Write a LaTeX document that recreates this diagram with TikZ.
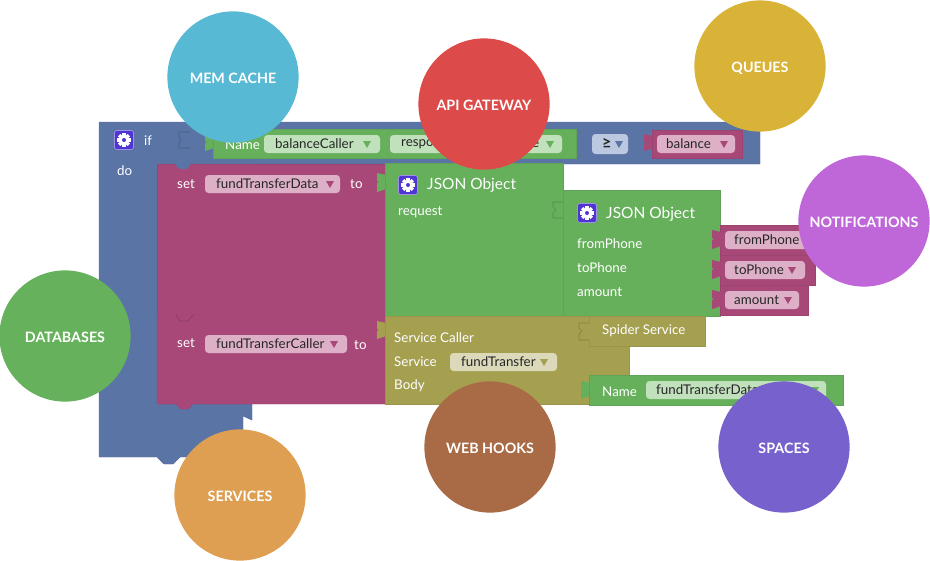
\documentclass[tikz,border=0pt]{standalone}
\usepackage{fontspec}
\setmainfont{Lato}
\definecolor{blockblue}{HTML}{5B74A6}
\definecolor{blockred}{HTML}{A84878}
\definecolor{blockgreen}{HTML}{66B05C}
\definecolor{blockolive}{HTML}{A5A050}
\definecolor{iconblue}{HTML}{4F35D2}
\definecolor{pillred}{HTML}{DDB0C8}
\definecolor{pillgreen}{HTML}{C1E0BC}
\definecolor{pillolive}{HTML}{DBD9B9}
\definecolor{pillblue}{HTML}{BCC8E0}
\definecolor{cachecolor}{HTML}{57B9D3}
\definecolor{queuecolor}{HTML}{D9B338}
\definecolor{gatewaycolor}{HTML}{DC4A4A}
\definecolor{notifycolor}{HTML}{BF67D9}
\definecolor{dbcolor}{HTML}{66B25C}
\definecolor{hookcolor}{HTML}{A96B45}
\definecolor{spacecolor}{HTML}{7761CC}
\definecolor{servicecolor}{HTML}{DE9F52}
\tikzset{
    blueblock/.style={fill=blockblue, draw=blockblue!93!black, line width=.4pt},
    redblock/.style={fill=blockred, draw=blockred!93!black, line width=.4pt},
    greenblock/.style={fill=blockgreen, draw=blockgreen!93!black, line width=.4pt},
    oliveblock/.style={fill=blockolive, draw=blockolive!93!black, line width=.4pt},
    socket/.style={draw=#1!80!black, line width=.5pt},
    bubble/.style={circle, minimum size=112pt, inner sep=0pt, text=white, text height=11pt, text depth=0pt, font=\fontsize{12.2}{14}\selectfont\bfseries},
    lbl/.style={anchor=west, inner sep=0pt, text=white, yshift=-.5pt, font=\fontsize{11.4}{13}\selectfont},
    title/.style={lbl, font=\fontsize{13.2}{15}\selectfont},
    pilltext/.style={anchor=west, inner sep=0pt, text=black!85, font=\fontsize{11.4}{13}\selectfont},
    pill/.style={fill=#1, draw=none, rounded corners=3pt},
}
% small drop-down triangle
\newcommand{\droptri}[3]{\fill[#3] (#1-4,#2-3) -- (#1+4,#2-3) -- (#1,#2+4) -- cycle;}
% left tab of a block, x is the block edge
\newcommand{\lefttab}[4]{\fill[#4] (#1+1,#2) -- (#1-8,#2-2) -- (#1-8,#2+6) -- (#1-6,#2+7) -- (#1-8,#2+8) -- (#1-8,#3+1) -- (#1+1,#3-2) -- cycle;}
% gear button
\newcommand{\gearicon}[2]{
    \begin{scope}[shift={(#1,#2)}]
        \draw[fill=iconblue, draw=iconblue!55!white, line width=.5pt, rounded corners=1.5pt] (-9.5,-9.5) rectangle (9.5,9.5);
        \foreach \a in {0,45,...,315}
            \fill[white, rotate=\a] (-1.6,-6.8) rectangle (1.6,0);
        \fill[white] (0,0) circle (5);
        \fill[iconblue] (0,0) circle (2);
    \end{scope}
}
\begin{document}
\begin{tikzpicture}[x=0.03cm, y=-0.03cm]
    \useasboundingbox (0,0) rectangle (930,560);

    % if block
    \draw[blueblock] (99,122) -- (760,122) -- (760,164) -- (252,164) -- (252,420) -- (243,416)
        -- (243,457) -- (180,457) -- (173,464) -- (164,464) -- (157,457) -- (99,457) -- cycle;
    \draw[socket=blockblue] (190,132) -- (179,132) -- (179,137) -- (181,140) -- (179,143) -- (179,148) -- (190,148);
    \gearicon{124}{140}
    \node[lbl] (iflabel) at (144,140) {if};
    \node[lbl] (dolabel) at (117,170) {do};

    % condition
    \lefttab{213}{135}{150}{blockgreen}
    \draw[greenblock] (213,129) rectangle (576,158);
    \node[lbl] (name1) at (225,144) {Name};
    \draw[pill=pillgreen] (264,135) rectangle (380,153);
    \node[pilltext] (balancecaller) at (275,144) {balanceCaller};
    \droptri{367}{144}{blockgreen}
    \draw[pill=pillgreen] (390,135) rectangle (562,153);
    \node[pilltext] (respo) at (401,144) {respo};
    \node[pilltext] (respoend) at (532,144) {e};
    \droptri{550}{144}{blockgreen}
    \draw[pill=pillblue] (592,134) rectangle (628,154);
    \node[pilltext, font=\fontsize{14}{15}\selectfont] (geq) at (602,144) {\textbf{≥}};
    \droptri{619}{144}{blockblue}
    \lefttab{652}{136}{150}{blockred}
    \draw[redblock] (652,130) rectangle (742,158);
    \draw[pill=pillred] (657,135) rectangle (735,153);
    \node[pilltext] (balance) at (666,144) {balance};
    \droptri{724}{144}{blockred}

    % set blocks
    \draw[redblock] (157,164) rectangle (385,315);
    \draw[redblock] (157,315) -- (385,315) -- (385,404) -- (193,404)
        -- (188,409) -- (181,409) -- (176,404) -- (157,404) -- cycle;
    \fill[blockblue] (176,164) -- (190,164) -- (190,166) -- (186,169) -- (180,169) -- (176,166) -- cycle;
    \draw[socket=blockred] (176,315) -- (180,321) -- (188,321) -- (193,315);
    \node[lbl] (set1) at (177,183) {set};
    \draw[pill=pillred] (205,175) rectangle (340,193);
    \node[pilltext] (transferdata) at (216,184) {fundTransferData};
    \droptri{330}{184}{blockred}
    \node[lbl] (to1) at (350,183) {to};
    \node[lbl] (set2) at (177,342) {set};
    \draw[pill=pillred] (205,335) rectangle (347,353);
    \node[pilltext] (transfercaller) at (216,344) {fundTransferCaller};
    \droptri{334}{344}{blockred}
    \node[lbl] (to2) at (354,344) {to};

    % json objects
    \lefttab{385}{175}{191}{blockgreen}
    \draw[greenblock] (385,163) rectangle (563,316);
    \gearicon{408}{185}
    \node[title] (json1) at (427,185) {JSON Object};
    \node[lbl] (request) at (398,212) {request};
    \draw[greenblock] (563,190) rectangle (720,316);
    \draw[socket=blockgreen] (563,202) -- (553,202) -- (553,207) -- (556,210) -- (553,213) -- (553,218) -- (563,218);
    \gearicon{587}{213}
    \node[title] (json2) at (606,214) {JSON Object};
    \node[lbl] (fromlabel) at (577,243) {fromPhone};
    \node[lbl] (tolabel) at (577,267) {toPhone};
    \node[lbl] (amountlabel) at (577,291) {amount};

    % variables
    \draw[redblock] (720,225) rectangle (822,255);
    \draw[redblock] (720,255) rectangle (815,285);
    \draw[redblock] (720,285) rectangle (808,315);
    \lefttab{720}{232}{248}{blockred}
    \lefttab{720}{262}{278}{blockred}
    \lefttab{720}{292}{308}{blockred}
    \draw[pill=pillred] (725,231) rectangle (812,249);
    \node[pilltext] (fromphone) at (734,240) {fromPhone};
    \draw[pill=pillred] (725,261) rectangle (805,279);
    \node[pilltext] (tophone) at (734,270) {toPhone};
    \droptri{792}{270}{blockred}
    \draw[pill=pillred] (725,291) rectangle (799,309);
    \node[pilltext] (amount) at (734,300) {amount};
    \droptri{788}{300}{blockred}

    % service caller
    \lefttab{385}{323}{338}{blockolive}
    \draw[oliveblock] (385,316) rectangle (629,404);
    \draw[oliveblock] (589,316) rectangle (705,346);
    \fill[blockolive] (588.5,323.5) rectangle (589.5,339.5);
    \draw[socket=blockolive] (589,323) -- (579,323) -- (579,328) -- (582,331) -- (579,334) -- (579,340) -- (589,340);
    \node[lbl] (caller) at (394,337) {Service Caller};
    \node[lbl] (service) at (394,361) {Service};
    \draw[pill=pillolive] (450,353) rectangle (557,371);
    \node[pilltext] (fundtransfer) at (461,362) {fundTransfer};
    \droptri{544}{362}{blockolive}
    \node[lbl] (body) at (394,385) {Body};
    \node[lbl] (spider) at (602,330) {Spider Service};
    \lefttab{589}{383}{398}{blockgreen}
    \draw[greenblock] (589,375) rectangle (843,405);
    \node[lbl] (name2) at (602,391) {Name};
    \draw[pill=pillgreen] (646,381) rectangle (826,399);
    \node[pilltext] (transferdata2) at (656,390) {fundTransferData};
    \droptri{815}{390}{blockgreen}

    % circles
    \node[bubble, fill=cachecolor] (memcache) at (233,77) {MEM CACHE};
    \node[bubble, fill=queuecolor] (queues) at (760,66) {QUEUES};
    \node[bubble, fill=gatewaycolor] (gateway) at (484,104) {API GATEWAY};
    \node[bubble, fill=notifycolor] (notifications) at (864,221) {NOTIFICATIONS};
    \node[bubble, fill=dbcolor] (databases) at (65,336) {DATABASES};
    \node[bubble, fill=hookcolor] (webhooks) at (490,447) {WEB HOOKS};
    \node[bubble, fill=spacecolor] (spaces) at (784,447) {SPACES};
    \node[bubble, fill=servicecolor] (services) at (240,495) {SERVICES};
\end{tikzpicture}
\end{document}
